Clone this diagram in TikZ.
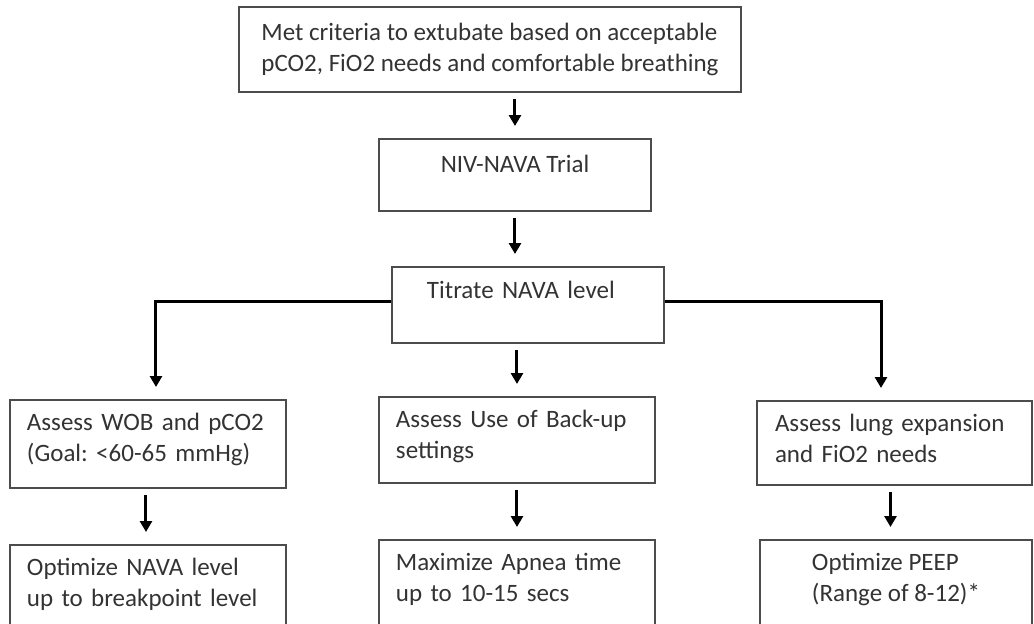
\documentclass[tikz,border=0pt]{standalone}
\usepackage{fontspec}
\setmainfont{Carlito}
\usepackage{tikz}
\usetikzlibrary{positioning}
\usetikzlibrary{arrows,arrows.meta}
\usetikzlibrary{calc}
\tikzstyle{box} = [draw=black!70, line width=1pt, fill=white, rectangle, inner xsep=8.5pt, text=black!80, font=\fontsize{12.5}{15.5}\selectfont\frenchspacing]
\tikzstyle{twoline} = [box, align=left, inner ysep=4pt, text height=11pt]
\tikzstyle{flow} = [line width=1.5pt, -{Triangle[length=5.5pt,width=6pt]}, shorten >=6pt]
\tikzstyle{gap} = [shorten <=3pt]

\begin{document}
\begin{tikzpicture}
	\useasboundingbox (-245pt,24.75pt) rectangle (272pt,-286.75pt);
	\node [box, minimum width=251pt, minimum height=42.5pt, inner xsep=4pt, align=left] (met)
	{Met criteria to extubate based on acceptable\\pCO2, FiO2 needs and comfortable breathing};
	\node [box, minimum width=136pt, inner ysep=8.5pt, text height=8pt, text depth=11pt, below=22.5pt of met, xshift=12.5pt] (niv)
		{NIV-NAVA Trial};
	\node [box, minimum width=136pt, inner xsep=17.5pt, inner ysep=7.5pt, text width=101pt, align=left, text height=8pt, text depth=15pt, below=27pt of niv, xshift=6.5pt] (titrate)
		{Titrate NAVA level};
	\node [twoline, minimum width=138pt, text depth=24pt, text width=121pt, below=26pt of titrate, xshift=-5.5pt] (backup)
		{Assess Use of Back-up\\settings};
	\node [twoline, minimum width=138pt, text depth=25pt, text width=121pt, left=45.5pt of backup.north west, anchor=north east, yshift=-1.5pt] (wob)
		{Assess WOB and pCO2\\(Goal: <60-65 mmHg)};
	\node [twoline, minimum width=137.5pt, text depth=23pt, text width=119.5pt, right=50pt of backup.north east, anchor=north west, yshift=-2pt] (lung)
		{Assess lung expansion\\and FiO2 needs};
	\node [twoline, minimum width=138pt, text depth=25pt, text width=121pt, below=27.5pt of wob] (nava)
		{Optimize NAVA level\\up to breakpoint level};
	\node [twoline, minimum width=138pt, text depth=24pt, text width=121pt, below=27.5pt of backup] (apnea)
		{Maximize Apnea time\\up to 10-15 secs};
	% centred block, baseline on its last line
	\node [twoline, minimum width=136pt, text height=26.5pt, text depth=8.5pt, below=26.5pt of lung, xshift=0.75pt] (peep)
		{Optimize PEEP\\(Range of 8-12)*};

	\draw [flow, gap] (met.south -| niv.north) -- (niv.north);
	\draw [flow, gap] (niv.south) -- (niv.south |- titrate.north);
	\draw [flow] ([yshift=2pt]titrate.west) -| ([xshift=4pt]wob.north);
	\draw [flow] ([yshift=2pt]titrate.east) -| ([xshift=-6.75pt]lung.north);
	\draw [flow, gap] (backup.north |- titrate.south) -- (backup.north);
	\draw [flow, gap] ([xshift=-1pt]wob.south) -- ([xshift=-1pt]nava.north);
	\draw [flow, gap] (backup) -- (apnea);
	\draw [flow, gap] ([xshift=-2pt]lung.south) -- ([xshift=-2pt]lung.south |- peep.north);
\end{tikzpicture}
\end{document}
